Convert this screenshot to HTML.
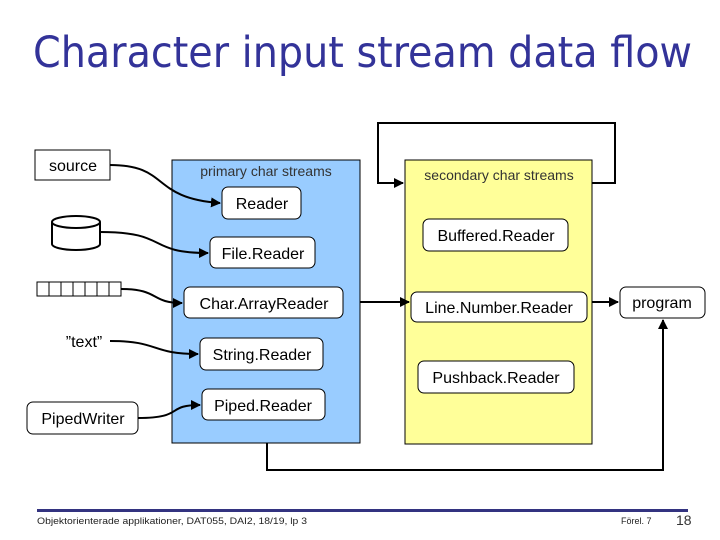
<!DOCTYPE html>
<html><head><meta charset="utf-8"><style>
html,body{margin:0;padding:0;background:#fff;}
svg{display:block;}
text{font-family:"Liberation Sans",sans-serif;}
</style></head><body>
<svg width="720" height="540" viewBox="0 0 720 540" xmlns="http://www.w3.org/2000/svg">
<defs>
<marker id="a" markerWidth="10" markerHeight="10" refX="9" refY="5" orient="auto" markerUnits="userSpaceOnUse">
<path d="M0,0 L10,5 L0,10 z" fill="#000"/></marker>
</defs>
<text x="33" y="67" font-size="43" fill="#333399" textLength="659" lengthAdjust="spacingAndGlyphs" style="font-family:'DejaVu Sans Condensed','DejaVu Sans',sans-serif">Character input stream data flow</text>

<!-- containers -->
<rect x="172" y="160" width="188" height="283" fill="#99ccff" stroke="#000" stroke-width="1"/>
<rect x="405" y="160" width="187" height="284" fill="#ffff99" stroke="#000" stroke-width="1"/>
<text x="266" y="176" font-size="14" text-anchor="middle" fill="#333">primary char streams</text>
<text x="499" y="180" font-size="14" text-anchor="middle" fill="#333">secondary char streams</text>

<!-- feedback loop -->
<path d="M592,183 H615 V123 H378 V183 H403" fill="none" stroke="#000" stroke-width="2" marker-end="url(#a)"/>
<!-- bottom loop -->
<path d="M267,443 V470 H663 V320" fill="none" stroke="#000" stroke-width="2" marker-end="url(#a)"/>
<path d="M360,302 H409" stroke="#000" stroke-width="2" marker-end="url(#a)"/>
<path d="M592,302 H618" stroke="#000" stroke-width="2" marker-end="url(#a)"/>

<!-- sources -->
<path d="M110,165 C170,165 150,198 220,203" fill="none" stroke="#000" stroke-width="2" marker-end="url(#a)"/>
<path d="M100,232 C170,232 145,253 208,253" fill="none" stroke="#000" stroke-width="2" marker-end="url(#a)"/>
<path d="M121,289 C160,289 150,303 182,303" fill="none" stroke="#000" stroke-width="2" marker-end="url(#a)"/>
<path d="M110,341 C160,341 150,354 198,354" fill="none" stroke="#000" stroke-width="2" marker-end="url(#a)"/>
<path d="M138,418 C185,418 165,405 200,405" fill="none" stroke="#000" stroke-width="2" marker-end="url(#a)"/>

<rect x="35" y="150" width="75" height="30" fill="#fff" stroke="#000"/>
<text x="73" y="171" font-size="16" text-anchor="middle">source</text>
<path d="M52,222 V244 A24,6 0 0 0 100,244 V222" fill="#fff" stroke="#000" stroke-width="2"/>
<ellipse cx="76" cy="222" rx="24" ry="6" fill="#fff" stroke="#000" stroke-width="2"/>
<g fill="#fff" stroke="#000">
<rect x="37" y="282" width="12" height="14"/><rect x="49" y="282" width="12" height="14"/><rect x="61" y="282" width="12" height="14"/><rect x="73" y="282" width="12" height="14"/><rect x="85" y="282" width="12" height="14"/><rect x="97" y="282" width="12" height="14"/><rect x="109" y="282" width="12" height="14"/>
</g>
<text x="84" y="347" font-size="16" text-anchor="middle">”text”</text>
<rect x="27" y="402" width="111" height="32" rx="6" fill="#fff" stroke="#000"/>
<text x="83" y="424" font-size="16" text-anchor="middle">PipedWriter</text>

<g fill="#fff" stroke="#000">
<rect x="222" y="187" width="79" height="32" rx="6"/>
<rect x="210" y="237" width="105" height="31" rx="6"/>
<rect x="184" y="287" width="159" height="31" rx="6"/>
<rect x="200" y="338" width="123" height="32" rx="6"/>
<rect x="202" y="389" width="123" height="31" rx="6"/>
<rect x="423" y="219" width="145" height="32" rx="6"/>
<rect x="411" y="292" width="176" height="30" rx="6"/>
<rect x="418" y="361" width="156" height="32" rx="6"/>
<rect x="620" y="287" width="85" height="31" rx="6"/>
</g>
<g font-size="16" text-anchor="middle">
<text x="262" y="209">Reader</text>
<text x="263" y="259">File.Reader</text>
<text x="264" y="309">Char.ArrayReader</text>
<text x="262" y="360">String.Reader</text>
<text x="263" y="411">Piped.Reader</text>
<text x="496" y="241">Buffered.Reader</text>
<text x="499" y="313">Line.Number.Reader</text>
<text x="496" y="383">Pushback.Reader</text>
<text x="662" y="308">program</text>
</g>

<rect x="37" y="509" width="651" height="3" fill="#333380"/>
<text x="37" y="524" font-size="9.5" fill="#222" textLength="270" lengthAdjust="spacingAndGlyphs">Objektorienterade applikationer, DAT055, DAI2, 18/19, lp 3</text>
<text x="621" y="524" font-size="9" fill="#222">Förel. 7</text>
<text x="676" y="525" font-size="14" fill="#333">18</text>
</svg>
</body></html>
